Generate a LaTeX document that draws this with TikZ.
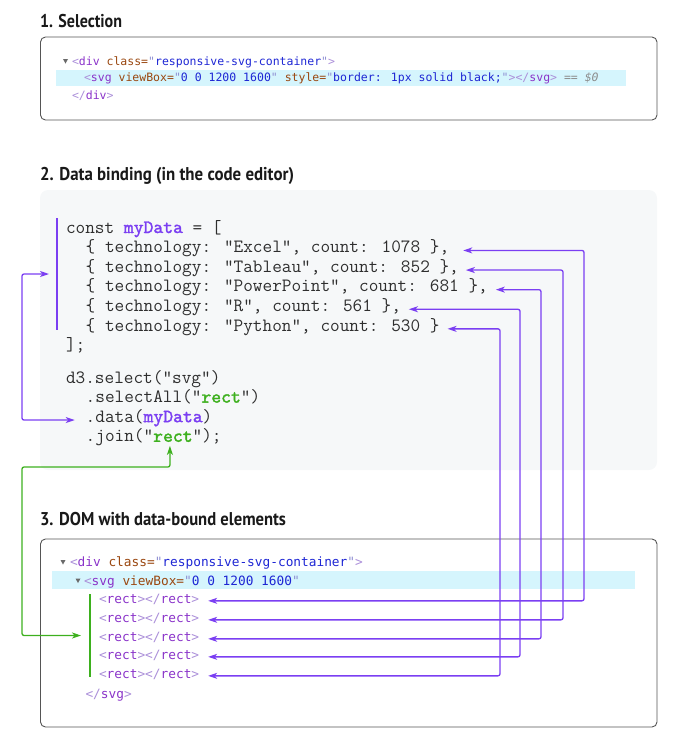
\documentclass[tikz,border=0pt]{standalone}
\usepackage{fontspec}
\usepackage{graphicx}
\usetikzlibrary{arrows.meta,calc}

\newfontfamily\titlefont{PT Sans}
\newfontfamily\domfont{DejaVu Sans Mono}
\newfontfamily\codebold{lmmono10-regular}[Extension=.otf, FakeBold=1.6]

% DevTools palette
\definecolor{tagc}{HTML}{8A33C9}
\definecolor{brc}{HTML}{AB8FD9}
\definecolor{attrc}{HTML}{9A4710}
\definecolor{valc}{HTML}{1E26D4}
\definecolor{quotc}{HTML}{8E8ED2}
\definecolor{grayc}{HTML}{8C8C8C}
\definecolor{hlc}{HTML}{D5F5FD}
\definecolor{tric}{HTML}{6A6A6A}
% editor palette
\definecolor{codebg}{HTML}{F6F8F9}
\definecolor{codec}{HTML}{2E2E2E}
\definecolor{bindc}{HTML}{7B3FF2}
\definecolor{joinc}{HTML}{3DB01E}
\definecolor{framec}{HTML}{555555}

\newcommand\domTag[1]{\textcolor{tagc}{#1}}
\newcommand\domBr[1]{\textcolor{brc}{#1}}
\newcommand\domAttr[1]{\textcolor{attrc}{#1}}
\newcommand\domVal[1]{\textcolor{valc}{#1}}
\newcommand\domQ{\textcolor{quotc}{"}}
\newcommand\hlData{{\codebold\textcolor{bindc}{myData}}}
\newcommand\hlRect{{\codebold\textcolor{joinc}{rect}}}
\newcommand\rectPair{\domBr{<}\domTag{rect}\domBr{></}\domTag{rect}\domBr{>}}

\tikzset{
  txt/.style={inner sep=0pt, outer sep=0pt, anchor=base west},
  heading/.style={txt, font=\titlefont\bfseries\fontsize{18.5}{20}\selectfont, text=black!90},
  domA/.style={txt, font=\domfont\fontsize{11.5}{13}\selectfont},
  domB/.style={txt, font=\domfont\fontsize{12.8}{14}\selectfont},
  code/.style={txt, font=\ttfamily\fontsize{18.74}{20}\selectfont, text=codec},
  frame/.style={draw=framec, line width=0.9pt, rounded corners=5pt},
  twisty/.style={fill=tric},
  bindarrow/.style={draw=bindc, line width=1.3pt, rounded corners=2pt,
    {Stealth[length=9pt,width=6pt,inset=2.5pt]}-{Stealth[length=9pt,width=6pt,inset=2.5pt]}},
  joinarrow/.style={draw=joinc, line width=1.3pt, rounded corners=2pt,
    {Stealth[length=9pt,width=6pt,inset=2.5pt]}-{Stealth[length=9pt,width=6pt,inset=2.5pt]}},
}

\begin{document}
\begin{tikzpicture}[x=1pt, y=-1pt]
\useasboundingbox (0,0) rectangle (685,745);

% ---------- 1. Selection ----------
\node[heading] (h1) at (40,27) {\resizebox{82pt}{\height}{1. Selection}};
\draw[frame] (40.5,37) rectangle (657,120);
\fill[hlc] (56,70) rectangle (626,86);
\fill[twisty] (63,59) -- (68,59) -- (65.5,63.5) -- cycle;
\node[domA] (s1) at (72,65) {\domBr{<}\domTag{div} \domAttr{class=}\domQ\domVal{responsive-svg-container}\domQ\domBr{>}};
\node[domA] (s2) at (84,81.5) {\domBr{<}\domTag{svg} \domAttr{viewBox=}\domQ\domVal{0 0 1200 1600}\domQ{} \domAttr{style=}\domQ\domVal{border: 1px solid black;}\domQ\domBr{></}\domTag{svg}\domBr{>} \textcolor{grayc}{== \textit{\$0}}};
\node[domA] (s3) at (72,99) {\domBr{</}\domTag{div}\domBr{>}};

% ---------- 2. Data binding ----------
\node[heading] (h2) at (40,180) {\resizebox{254pt}{\height}{2. Data binding (in the code editor)}};
\fill[codebg, rounded corners=8pt] (40,190) rectangle (657,470);

\node[code] (c0) at (66,233)   {const \hlData{} = [};
\node[code] (c1) at (85.7,252.6) {\{ technology: "Excel", count: 1078 \},};
\node[code] (c2) at (85.7,272.2) {\{ technology: "Tableau", count: 852 \},};
\node[code] (c3) at (85.7,291.8) {\{ technology: "PowerPoint", count: 681 \},};
\node[code] (c4) at (85.7,311.4) {\{ technology: "R", count: 561 \},};
\node[code] (c5) at (85.7,331)   {\{ technology: "Python", count: 530 \}};
\node[code] (c6) at (66,350.6) {];};
\node[code] (d0) at (66,383)   {d3.select("svg")};
\node[code] (d1) at (85.7,402.6) {.selectAll("\hlRect")};
\node[code] (d2) at (85.7,422.2) {.data(\hlData)};
\node[code] (j0) at (85.7,441.8) {.join("};
\node[code] (jr) at (j0.base east) {\hlRect};
\node[code] (j2) at (jr.base east) {");};

% bracket marking the data array
\coordinate (pb1) at (57,218);
\coordinate (pb2) at (57,330);
\coordinate (pbm) at ($(pb1)!0.5!(pb2)$);
\draw[bindc, line width=2.5pt] (pb1) -- (pb2);

% ---------- 3. DOM with data-bound elements ----------
\node[heading] (h3) at (40,525) {\resizebox{246pt}{\height}{3. DOM with data-bound elements}};
\draw[frame] (40.5,539) rectangle (657,727);
\fill[hlc] (52,571) rectangle (635,589);
\fill[twisty] (60.5,560) -- (65.5,560) -- (63,564.5) -- cycle;
\fill[twisty] (75.5,578.5) -- (80.5,578.5) -- (78,583) -- cycle;
\node[domB] (m1) at (70,566) {\domBr{<}\domTag{div} \domAttr{class=}\domQ\domVal{responsive-svg-container}\domQ\domBr{>}};
\node[domB] (m2) at (84,585) {\domBr{<}\domTag{svg} \domAttr{viewBox=}\domQ\domVal{0 0 1200 1600}\domQ};
\node[domB] (r1) at (99,603) {\rectPair};
\node[domB] (r2) at (99,622) {\rectPair};
\node[domB] (r3) at (99,641) {\rectPair};
\node[domB] (r4) at (99,659) {\rectPair};
\node[domB] (r5) at (99,678) {\rectPair};
\node[domB] (m3) at (85.5,698) {\domBr{</}\domTag{svg}\domBr{>}};

% bracket marking the joined rects
\coordinate (gb1) at (90,594);
\coordinate (gb2) at (90,677);
\coordinate (gbm) at ($(gb1)!0.5!(gb2)$);
\draw[joinc, line width=2.2pt] (gb1) -- (gb2);

% ---------- connectors ----------
% routing columns
\coordinate (k1) at (584,0);
\coordinate (k2) at (563,0);
\coordinate (k3) at (541,0);
\coordinate (k4) at (520,0);
\coordinate (k5) at (500,0);
\coordinate (lx) at (22,0);
\coordinate (gc) at (22,467);

\draw[bindarrow] ([xshift=14pt]c1.mid east) -| (k1 |- r1.mid east) -- ([xshift=9pt]r1.mid east);
\draw[bindarrow] ([xshift=7pt]c2.mid east) -| (k2 |- r2.mid east) -- ([xshift=9pt]r2.mid east);
\draw[bindarrow] ([xshift=8pt]c3.mid east) -| (k3 |- r3.mid east) -- ([xshift=9pt]r3.mid east);
\draw[bindarrow] ([xshift=8pt]c4.mid east) -| (k4 |- r4.mid east) -- ([xshift=9pt]r4.mid east);
\draw[bindarrow] ([xshift=8pt]c5.mid east) -| (k5 |- r5.mid east) -- ([xshift=9pt]r5.mid east);

% the array feeds .data()
\draw[bindarrow] ([xshift=-8pt]pbm) -| (lx |- d2.mid west) -- ([xshift=-11pt]d2.mid west);

% .join("rect") creates the rect elements
\draw[joinarrow] ([xshift=-3pt,yshift=-4pt]jr.south) |- (gc) |- ([xshift=-9pt]gbm);

\end{tikzpicture}
\end{document}
